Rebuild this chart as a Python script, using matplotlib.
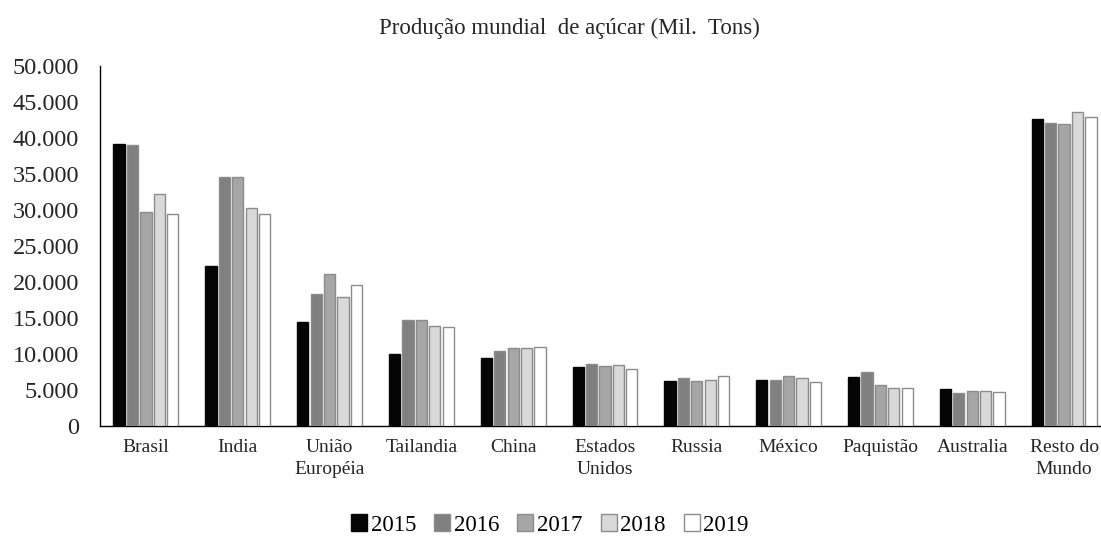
import matplotlib
matplotlib.use('Agg')
import matplotlib.pyplot as plt
import numpy as np

plt.rcParams['font.family'] = ['Liberation Serif', 'DejaVu Serif']

paises = ['Brasil', 'India', 'União\nEuropéia', 'Tailandia', 'China', 'Estados\nUnidos',
          'Russia', 'México', 'Paquistão', 'Australia', 'Resto do\nMundo']
anos = ['2015', '2016', '2017', '2018', '2019']

prod_2015 = [39160, 22200, 14400, 9990, 9380, 8130, 6230, 6410, 6870, 5200, 42600]
prod_2016 = [38970, 34560, 18350, 14770, 10360, 8550, 6600, 6410, 7480, 4560, 42130]
prod_2017 = [29690, 34560, 21090, 14770, 10780, 8270, 6190, 7010, 5760, 4920, 41910]
prod_2018 = [32240, 30340, 17930, 13940, 10780, 8500, 6410, 6600, 5340, 4920, 43580]
prod_2019 = [29450, 29450, 19610, 13700, 10970, 7850, 7010, 6130, 5340, 4700, 42970]
series = [prod_2015, prod_2016, prod_2017, prod_2018, prod_2019]

cores = ['#050505', '#808080', '#a6a6a6', '#d9d9d9', '#ffffff']
bordas = ['#050505', '#8c8c8c', '#8c8c8c', '#8c8c8c', '#8c8c8c']

fig = plt.figure(figsize=(11.01, 5.41), dpi=100)
ax = fig.add_axes([100 / 1101, 1 - 426 / 541, 1010 / 1101, 360 / 541])

x = np.arange(len(paises))
slot = 0.146
larg = 0.122
for i, (vals, ano) in enumerate(zip(series, anos)):
    ax.bar(x + (i - 2) * slot, vals, larg, color=cores[i], edgecolor=bordas[i],
           linewidth=1.0, label=ano, zorder=3)

ax.set_xlim(-0.5, len(paises) - 0.5)
ax.set_ylim(0, 50000)
ax.set_yticks(np.arange(0, 50001, 5000))
ax.set_yticklabels([f'{v:,}'.replace(',', '.') for v in range(0, 50001, 5000)], fontsize=17.5)
ax.set_xticks(x)
ax.set_xticklabels(paises, fontsize=14, linespacing=1.45)
ax.tick_params(axis='both', length=0, colors='#262626')
ax.tick_params(axis='y', pad=15)
ax.tick_params(axis='x', pad=9)
for s in ['top', 'right']:
    ax.spines[s].set_visible(False)
for s in ['left', 'bottom']:
    ax.spines[s].set_color('#000000')
    ax.spines[s].set_linewidth(1.0)

fig.text(569 / 1101, 1 - 28 / 541, 'Produção mundial  de açúcar (Mil.  Tons)',
         ha='center', va='center', fontsize=16.5, color='#262626')

fig.legend(loc='center', bbox_to_anchor=(550 / 1101, 1 - 525 / 541), ncol=5,
           frameon=False, fontsize=16.5, handlelength=0.7, handleheight=0.7,
           handletextpad=0.15, columnspacing=0.8)

fig.savefig('out.png', dpi=100)
